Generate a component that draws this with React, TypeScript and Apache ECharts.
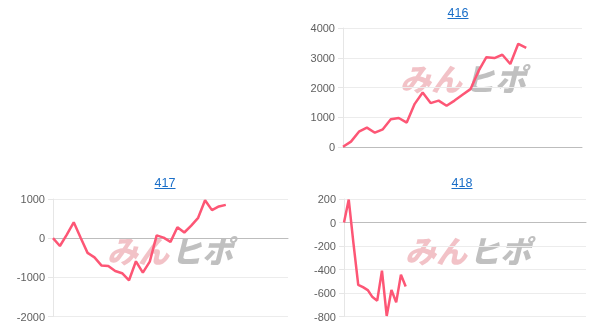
import React, { useEffect, useRef } from "react";
import * as echarts from "echarts";

const titles = ["416", "417", "418"];
const categoryCounts = [31, 35, 52];
const values416 = [10, 180, 515, 650, 480, 595, 930, 975, 820, 1450, 1830, 1475, 1560, 1385, 1560, 1755, 1945, 2550, 3020, 2990, 3100, 2790, 3470, 3330];
const values417 = [0, -200, 90, 405, 10, -375, -490, -695, -710, -840, -895, -1075, -590, -880, -600, 70, 15, -95, 280, 145, 320, 520, 970, 715, 810, 850];
const values418 = [0, 195, -180, -530, -550, -575, -635, -665, -410, -795, -575, -680, -445, -545];
const yMins = [0, -2000, -800];
const yMaxs = [4000, 1000, 200];
const yIntervals = [1000, 1000, 200];

const seriesValues = [values416, values417, values418];

const grids = [
  { left: 343, top: 28, width: 239, height: 119 },
  { left: 53, top: 199, width: 235, height: 117.5 },
  { left: 344, top: 199, width: 242, height: 117.5 },
];
const titlePos = [
  { x: 458, y: 13 },
  { x: 165, y: 183 },
  { x: 462, y: 183 },
];
const watermarkPos = [
  { x: 400, y: 62 },
  { x: 107, y: 234 },
  { x: 405, y: 234 },
];

const LINE_COLOR = "#fd5675";
const TITLE_COLOR = "#1a6ec8";

export default function App() {
  const ref = useRef<HTMLDivElement>(null);
  useEffect(() => {
    if (!ref.current) return;
    const chart = echarts.init(ref.current, undefined, { renderer: "svg" });
    const graphics: any[] = [];
    titles.forEach((t, i) => {
      graphics.push({
        type: "text",
        x: titlePos[i].x,
        y: titlePos[i].y,
        style: {
          text: t,
          fill: TITLE_COLOR,
          fontSize: 12.5,
          fontFamily: "Liberation Sans, Arial, sans-serif",
          textAlign: "center",
          textVerticalAlign: "middle",
        },
      });
      graphics.push({
        type: "line",
        shape: { x1: titlePos[i].x - 10.5, y1: titlePos[i].y + 5.5, x2: titlePos[i].x + 10.5, y2: titlePos[i].y + 5.5 },
        style: { stroke: TITLE_COLOR, lineWidth: 1 },
      });
      graphics.push({
        type: "group",
        x: watermarkPos[i].x,
        y: watermarkPos[i].y,
        z: -10,
        children: [
          {
            type: "text",
            x: 0,
            y: 0,
            style: {
              text: "みん",
              fill: "rgba(226,120,130,0.45)",
              fontSize: 31,
              fontWeight: 900,
              fontStyle: "italic",
              fontFamily: "Noto Sans CJK JP",
            },
          },
          {
            type: "text",
            x: 64,
            y: 0,
            style: {
              text: "ヒポ",
              fill: "rgba(150,150,150,0.6)",
              fontSize: 31,
              fontWeight: 900,
              fontStyle: "italic",
              fontFamily: "Noto Sans CJK JP",
            },
          },
        ],
      });
    });
    chart.setOption({
      animation: false,
      grid: grids.map((g) => ({ ...g, containLabel: false })),
      xAxis: titles.map((_, i) => ({
        type: "category",
        gridIndex: i,
        boundaryGap: false,
        data: Array.from({ length: categoryCounts[i] }, (_, k) => String(k + 1)),
        axisLabel: { show: false },
        axisTick: { show: false },
        axisLine: { show: true, onZero: true, lineStyle: { color: "#bdbdbd", width: 1 } },
        splitLine: { show: false },
      })),
      yAxis: titles.map((_, i) => ({
        type: "value",
        gridIndex: i,
        min: yMins[i],
        max: yMaxs[i],
        interval: yIntervals[i],
        axisLine: { show: true, lineStyle: { color: "#e6e6e6" } },
        axisTick: { show: true, length: 5, lineStyle: { color: "#e6e6e6" } },
        axisLabel: {
          color: "#5f5f5f",
          fontSize: 11,
          fontFamily: "Liberation Sans, Arial, sans-serif",
          margin: 8,
          formatter: (v: number) => String(v),
        },
        splitLine: { show: true, lineStyle: { color: "#ececec" } },
      })),
      series: seriesValues.map((vals, i) => ({
        type: "line",
        xAxisIndex: i,
        yAxisIndex: i,
        data: vals,
        showSymbol: false,
        symbol: "none",
        lineStyle: { color: LINE_COLOR, width: 2.5 },
        itemStyle: { color: LINE_COLOR },
        z: 5,
      })),
      graphic: graphics,
    });
    return () => chart.dispose();
  }, []);
  return <div ref={ref} style={{ position: "fixed", left: 0, top: 0, width: 609, height: 331 }} />;
}
